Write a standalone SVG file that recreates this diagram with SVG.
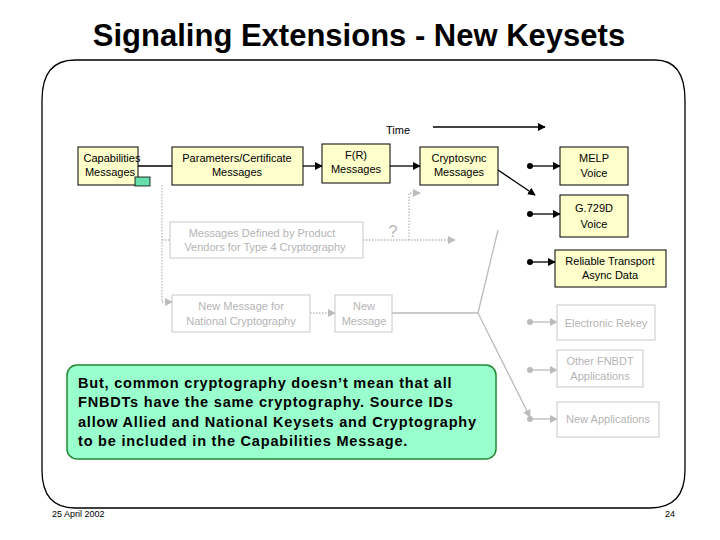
<svg xmlns="http://www.w3.org/2000/svg" width="720" height="540" viewBox="0 0 720 540">
<defs>
<style>
text{font-family:"Liberation Sans",Arial,sans-serif;font-size:11px;text-anchor:middle}
.n{font-size:14.5px;font-weight:bold;text-anchor:start;letter-spacing:0.8px}
.y{fill:#ffffcc;stroke:#000;stroke-width:1}
.g{fill:#fff;stroke:#c8c8c8;stroke-width:1}
.gt{fill:#b4b4b4}
.k{stroke:#000;stroke-width:1.3;fill:none}
.gl{stroke:#bbb;stroke-width:1.3;fill:none}
.d{stroke:#bbb;stroke-width:1.3;fill:none;stroke-dasharray:1.5 1.5}
</style>
<marker id="a" viewBox="0 0 10 10" refX="9" refY="5" markerWidth="6" markerHeight="6" orient="auto"><path d="M0,0L10,5L0,10z" fill="#000"/></marker>
<marker id="ag" viewBox="0 0 10 10" refX="9" refY="5" markerWidth="6" markerHeight="6" orient="auto"><path d="M0,0L10,5L0,10z" fill="#bbb"/></marker>
</defs>
<rect width="720" height="540" fill="#fff"/>
<text x="359" y="46" style="font-size:31px;font-weight:bold">Signaling Extensions - New Keysets</text>
<path d="M75,60 H655 Q685,60 685,100 V470 Q685,508 650,508 H75 Q42,508 42,470 V100 Q42,60 75,60 Z" fill="none" stroke="#000" stroke-width="1.3"/>
<text x="398" y="134">Time</text>
<g id="connectors">
<line class="k" x1="433" y1="127" x2="545" y2="127" marker-end="url(#a)" stroke-width="2"/>
<line class="k" x1="138" y1="166" x2="172" y2="166"/>
<line class="k" x1="303" y1="166" x2="322" y2="166" marker-end="url(#a)"/>
<line class="k" x1="390" y1="166" x2="420" y2="166" marker-end="url(#a)"/>
<line class="k" x1="498" y1="170" x2="535" y2="195" marker-end="url(#a)"/>
<line class="k" x1="530" y1="166" x2="560" y2="166" marker-end="url(#a)"/>
<line class="k" x1="530" y1="214" x2="560" y2="214" marker-end="url(#a)"/>
<line class="k" x1="530" y1="262" x2="555" y2="262" marker-end="url(#a)"/>
<circle cx="530" cy="166" r="3" fill="#000"/>
<circle cx="530" cy="214" r="3" fill="#000"/>
<circle cx="530" cy="262" r="3" fill="#000"/>
<line class="gl" x1="530" y1="322" x2="557" y2="322" marker-end="url(#ag)"/>
<line class="gl" x1="530" y1="370" x2="557" y2="370" marker-end="url(#ag)"/>
<line class="gl" x1="530" y1="419" x2="557" y2="419" marker-end="url(#ag)"/>
<circle cx="530" cy="322" r="3" fill="#bbb"/>
<circle cx="530" cy="370" r="3" fill="#bbb"/>
<circle cx="530" cy="419" r="3" fill="#bbb"/>
<polyline class="gl" points="392,313 478,313 498,230"/>
<line class="gl" x1="478" y1="313" x2="530" y2="417" marker-end="url(#ag)"/>
<polyline class="d" points="162,185 162,302 172,302" marker-end="url(#ag)"/>
<line class="d" x1="162" y1="240" x2="170" y2="240"/>
<line class="d" x1="363" y1="240" x2="455" y2="240" marker-end="url(#ag)"/>
<polyline class="d" points="409,240 409,193 420,193" marker-end="url(#ag)"/>
<line class="d" x1="310" y1="313" x2="335" y2="313" marker-end="url(#ag)"/>
</g>
<g id="capabilities"><rect class="y" x="78" y="147" width="60" height="38"/><rect x="135" y="177" width="15" height="9" fill="#66ddaa" stroke="#000" stroke-width="0.8"/><text x="112" y="162">Capabilities</text><text x="110" y="176">Messages</text></g>
<g id="params"><rect class="y" x="172" y="147" width="131" height="38"/><text x="237" y="162">Parameters/Certificate</text><text x="237" y="176">Messages</text></g>
<g id="fr"><rect class="y" x="322" y="144" width="68" height="39"/><text x="356" y="159">F(R)</text><text x="356" y="173">Messages</text></g>
<g id="cryptosync"><rect class="y" x="420" y="147" width="78" height="38"/><text x="459" y="162">Cryptosync</text><text x="459" y="176">Messages</text></g>
<g id="melp"><rect class="y" x="560" y="147" width="68" height="38"/><text x="594" y="162">MELP</text><text x="594" y="177">Voice</text></g>
<g id="g729"><rect class="y" x="560" y="195" width="68" height="42"/><text x="594" y="212">G.729D</text><text x="594" y="228">Voice</text></g>
<g id="reliable"><rect class="y" x="555" y="250" width="111" height="37"/><text x="610" y="265">Reliable Transport</text><text x="610" y="279">Async Data</text></g>
<g id="rekey"><rect class="g" x="557" y="305" width="98" height="35"/><text class="gt" x="606" y="327">Electronic Rekey</text></g>
<g id="other"><rect class="g" x="557" y="350" width="86" height="37"/><text class="gt" x="600" y="365">Other FNBDT</text><text class="gt" x="600" y="380">Applications</text></g>
<g id="newapps"><rect class="g" x="557" y="402" width="102" height="35"/><text class="gt" x="608" y="423">New Applications</text></g>
<g id="vendors"><rect class="g" x="170" y="222" width="193" height="36"/><text class="gt" x="262" y="237">Messages Defined by Product</text><text class="gt" x="265" y="251">Vendors for Type 4 Cryptography</text></g>
<g id="q"><text class="gt" x="393" y="237" style="font-size:16px">?</text></g>
<g id="national"><rect class="g" x="172" y="295" width="138" height="37"/><text class="gt" x="241" y="310">New Message for</text><text class="gt" x="241" y="325">National Cryptography</text></g>
<g id="newmsg"><rect class="g" x="335" y="295" width="57" height="37"/><text class="gt" x="364" y="310">New</text><text class="gt" x="364" y="325">Message</text></g>
<g id="note"><rect x="67" y="365" width="429" height="94" rx="10" fill="#99ffcc" stroke="#228833" stroke-width="1.5"/>
<text class="n" x="78" y="388">But, common cryptography doesn’t mean that all</text><text class="n" x="78" y="407">FNBDTs have the same cryptography.  Source IDs</text><text class="n" x="78" y="427">allow Allied and National Keysets and Cryptography</text><text class="n" x="78" y="446">to be included in the Capabilities Message.</text></g>
<text x="52" y="517" style="font-size:9px;text-anchor:start">25 April 2002</text>
<text x="670" y="517" style="font-size:9px">24</text>
</svg>
